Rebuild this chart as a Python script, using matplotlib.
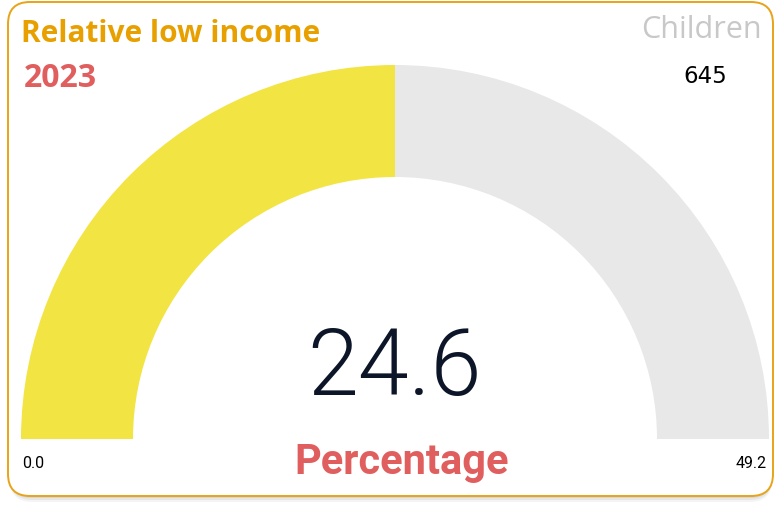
import matplotlib.pyplot as plt
from matplotlib.patches import Wedge, FancyBboxPatch

# Gauge data
title = 'Relative low income'
year = '2023'
group = 'Children'
count = '645'
value = 24.6
gauge_min = 0.0
gauge_max = 49.2
measure = 'Percentage'

W, H = 775, 506
fig = plt.figure(figsize=(W / 100, H / 100), dpi=100)
ax = fig.add_axes([0, 0, 1, 1])
ax.set_xlim(0, W)
ax.set_ylim(0, H)
ax.axis('off')

# card shadow and border
for off, a in [(7, 0.10), (5, 0.15), (3, 0.2)]:
    ax.add_patch(FancyBboxPatch((10, 10 - off), 762, 492, boxstyle='round,pad=0,rounding_size=22',
                                fc='#9a9a9a', ec='none', alpha=a))
ax.add_patch(FancyBboxPatch((8, 9), 765, 494, boxstyle='round,pad=0,rounding_size=22',
                            fc='white', ec='#E8A317', lw=1.4))

# gauge
cx, cy = 395, 66
r_out, r_in = 374, 262
frac = (value - gauge_min) / (gauge_max - gauge_min)
split = 180 - 180 * frac
ax.add_patch(Wedge((cx, cy), r_out, 0, split, width=r_out - r_in, fc='#E8E8E8', ec='none'))
ax.add_patch(Wedge((cx, cy), r_out, split, 180, width=r_out - r_in, fc='#F2E442', ec='none'))

# texts
ax.text(21, 472, title, fontsize=21.5, fontweight='bold', color='#E8A000',
        family='Open Sans', va='center', ha='left')
ax.text(24, 428, year, fontsize=23, fontweight='bold', color='#E05E5E',
        family='Open Sans', va='center', ha='left')
ax.text(762, 476, group, fontsize=22, color='#C8C8C8',
        family='Open Sans', va='center', ha='right')
ax.text(727, 430, count, fontsize=16.5, color='black',
        family='DejaVu Sans', va='center', ha='right')
ax.text(cx - 1, 136, f'{value:.1f}', fontsize=66, color='#0D1628', fontweight=300,
        family='Roboto', va='center', ha='center')
ax.text(cx + 7, 43, measure, fontsize=30, fontweight='bold', color='#E05E5E',
        family='Roboto', va='center', ha='center')
ax.text(22, 42, f'{gauge_min:.1f}', fontsize=11.5, color='black',
        family='Roboto', va='center', ha='left')
ax.text(767, 42, f'{gauge_max:.1f}', fontsize=11.5, color='black',
        family='Roboto', va='center', ha='right')

fig.savefig('out.png', dpi=100)
